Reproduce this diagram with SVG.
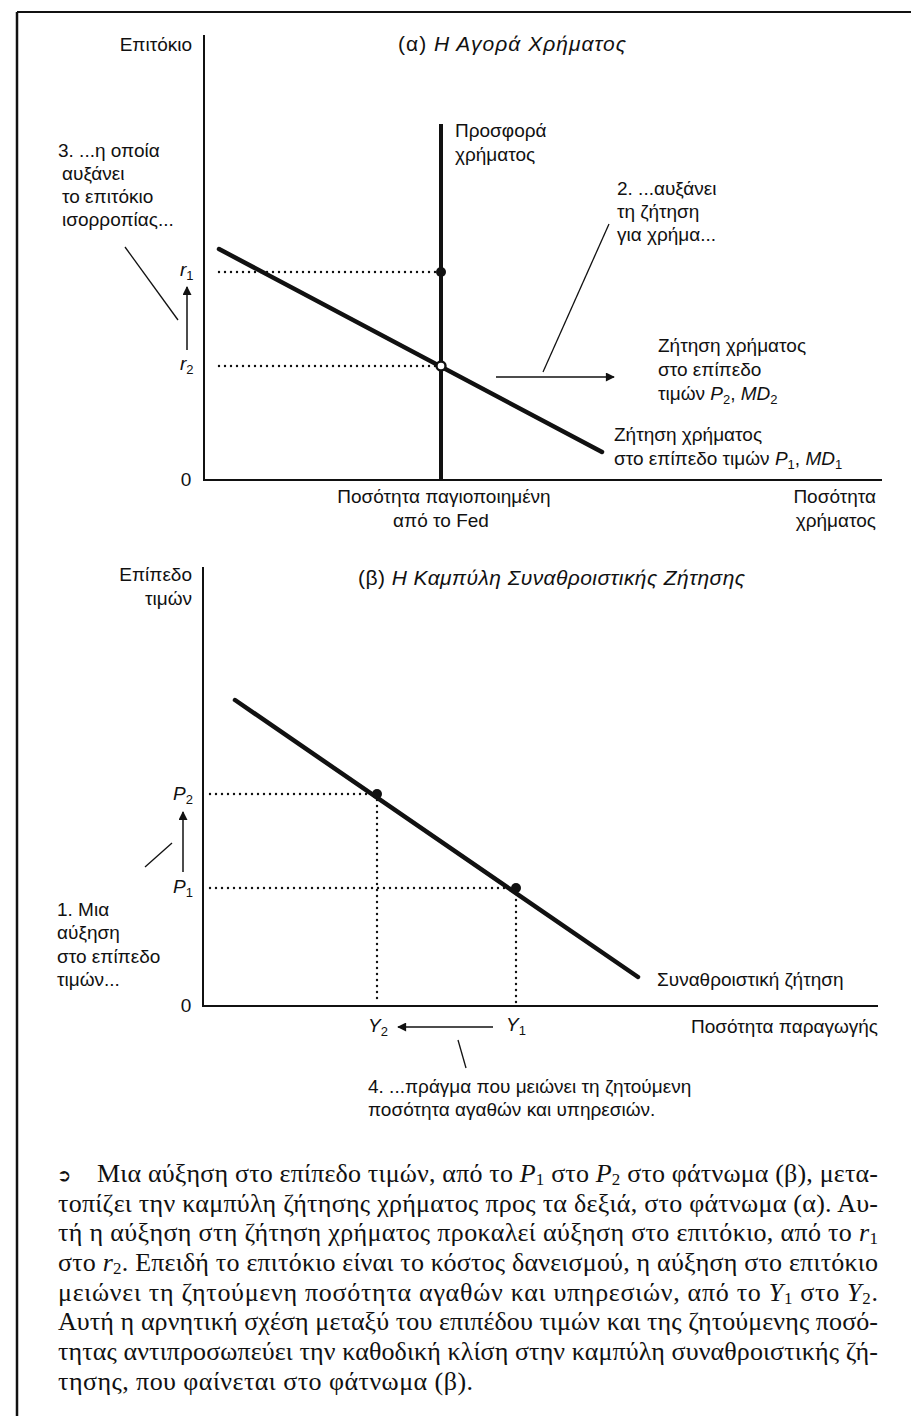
<svg xmlns="http://www.w3.org/2000/svg" width="911" height="1416" viewBox="0 0 911 1416">
  <style>
    .lbl { font-family: "Liberation Sans", Arial, sans-serif; font-size: 19px; fill: #111; }
    .ttl { font-family: "Liberation Sans", Arial, sans-serif; font-size: 21px; fill: #111; }
    .it { font-style: italic; }
    .sub { font-size: 13px; }
    .axis { stroke: #111; stroke-width: 2; fill: none; }
    .curve { stroke: #111; stroke-width: 4.5; fill: none; stroke-linecap: round; }
    .supply { stroke: #111; stroke-width: 4; fill: none; }
    .dots { stroke: #111; stroke-width: 2.4; fill: none; stroke-dasharray: 0 6; stroke-linecap: round; }
    .lead { stroke: #111; stroke-width: 1.3; fill: none; }
    .arr { stroke: #111; stroke-width: 1.5; fill: none; marker-end: url(#tri); }
    .cap { font-family: "Liberation Serif", "Times New Roman", serif; font-size: 26px; fill: #111; }
    .csub { font-size: 17px; }
  </style>
  <defs>
    <marker id="tri" viewBox="0 0 10 10" refX="9" refY="5" markerWidth="11" markerHeight="9" orient="auto" markerUnits="userSpaceOnUse">
      <path d="M0,0 L10,5 L0,10 z" fill="#111"/>
    </marker>
  </defs>

  <rect width="911" height="1416" fill="#fff"/>

  <!-- page frame -->
  <g id="frame">
    <line x1="17" y1="12" x2="911" y2="12" stroke="#111" stroke-width="2"/>
    <line x1="17" y1="12" x2="17" y2="1416" stroke="#111" stroke-width="2.5"/>
  </g>

  <!-- ===== Panel (a): money market ===== -->
  <g id="panel-a-axes">
    <line class="axis" x1="204" y1="35" x2="204" y2="481"/>
    <line class="axis" x1="203" y1="480" x2="882" y2="480"/>
    <text class="lbl" x="192" y="51" text-anchor="end">Επιτόκιο</text>
    <text class="lbl" x="186" y="486" text-anchor="middle">0</text>
    <text class="lbl" x="444" y="503" text-anchor="middle">Ποσότητα παγιοποιημένη</text>
    <text class="lbl" x="441" y="527" text-anchor="middle">από το Fed</text>
    <text class="lbl" x="876" y="503" text-anchor="end">Ποσότητα</text>
    <text class="lbl" x="876" y="527" text-anchor="end">χρήματος</text>
  </g>
  <g id="title-a">
    <text class="ttl" x="398" y="51" textLength="228" lengthAdjust="spacing">(α)  <tspan class="it">Η Αγορά Χρήματος</tspan></text>
  </g>

  <g id="connectors">
    <!-- guide lines at r1 and r2 -->
    <line class="dots" x1="219" y1="272" x2="438" y2="272"/>
    <line class="dots" x1="219" y1="366" x2="436" y2="366"/>
    <!-- rate rises r2 -> r1 -->
    <line class="arr" x1="187" y1="350" x2="187" y2="287"/>
    <line class="lead" x1="125" y1="247" x2="178" y2="320"/>
    <!-- demand shift -->
    <line class="arr" x1="496" y1="377" x2="614" y2="377"/>
    <line class="lead" x1="609" y1="224" x2="543" y2="372"/>
    <!-- guide lines at P2 and P1 -->
    <line class="dots" x1="210" y1="794" x2="372" y2="794"/>
    <line class="dots" x1="377" y1="800" x2="377" y2="1004"/>
    <line class="dots" x1="210" y1="888" x2="511" y2="888"/>
    <line class="dots" x1="516" y1="894" x2="516" y2="1004"/>
    <!-- price level rises P1 -> P2 -->
    <line class="arr" x1="183" y1="872" x2="183" y2="812"/>
    <line class="lead" x1="145" y1="867" x2="172" y2="843"/>
    <!-- output falls Y1 -> Y2 -->
    <line class="arr" x1="493" y1="1027" x2="398" y2="1027"/>
    <line class="lead" x1="458" y1="1040" x2="466" y2="1068"/>
  </g>

  <g id="money-supply">
    <line class="supply" x1="441" y1="124" x2="441" y2="480"/>
    <text class="lbl" x="455" y="137">Προσφορά</text>
    <text class="lbl" x="455" y="161">χρήματος</text>
  </g>

  <g id="money-demand-md1">
    <line class="curve" x1="219" y1="249" x2="602" y2="452"/>
    <text class="lbl" x="614" y="441">Ζήτηση χρήματος</text>
    <text class="lbl" x="614" y="465">στο επίπεδο τιμών <tspan class="it">P</tspan><tspan class="sub" dy="4">1</tspan><tspan dy="-4">, </tspan><tspan class="it">MD</tspan><tspan class="sub" dy="4">1</tspan></text>
  </g>

  <g id="money-demand-md2">
    <text class="lbl" x="658" y="352">Ζήτηση χρήματος</text>
    <text class="lbl" x="658" y="376">στο επίπεδο</text>
    <text class="lbl" x="658" y="400">τιμών <tspan class="it">P</tspan><tspan class="sub" dy="4">2</tspan><tspan dy="-4">, </tspan><tspan class="it">MD</tspan><tspan class="sub" dy="4">2</tspan></text>
  </g>

  <g id="equilibrium-points">
    <circle cx="441" cy="272" r="5" fill="#111"/>
    <circle cx="441" cy="366" r="4.5" fill="#fff" stroke="#111" stroke-width="2.4"/>
    <text class="lbl" x="180" y="276"><tspan class="it">r</tspan><tspan class="sub" dy="4">1</tspan></text>
    <text class="lbl" x="180" y="370"><tspan class="it">r</tspan><tspan class="sub" dy="4">2</tspan></text>
  </g>

  <g id="note-3">
    <text class="lbl" x="58" y="157">3. ...η οποία</text>
    <text class="lbl" x="62" y="180">αυξάνει</text>
    <text class="lbl" x="62" y="203">το επιτόκιο</text>
    <text class="lbl" x="62" y="226">ισορροπίας...</text>
  </g>

  <g id="note-2">
    <text class="lbl" x="617" y="195">2. ...αυξάνει</text>
    <text class="lbl" x="617" y="218">τη ζήτηση</text>
    <text class="lbl" x="617" y="241">για χρήμα...</text>
  </g>

  <!-- ===== Panel (b): aggregate demand ===== -->
  <g id="panel-b-axes">
    <line class="axis" x1="203" y1="567" x2="203" y2="1007"/>
    <line class="axis" x1="202" y1="1006" x2="878" y2="1006"/>
    <text class="lbl" x="192" y="581" text-anchor="end">Επίπεδο</text>
    <text class="lbl" x="192" y="605" text-anchor="end">τιμών</text>
    <text class="lbl" x="186" y="1012" text-anchor="middle">0</text>
    <text class="lbl" x="878" y="1033" text-anchor="end">Ποσότητα παραγωγής</text>
  </g>
  <g id="title-b">
    <text class="ttl" x="358" y="585" textLength="387" lengthAdjust="spacing">(β)  <tspan class="it">Η Καμπύλη Συναθροιστικής Ζήτησης</tspan></text>
  </g>

  <g id="aggregate-demand">
    <line class="curve" x1="235" y1="700" x2="638" y2="977"/>
    <text class="lbl" x="657" y="986">Συναθροιστική ζήτηση</text>
    <circle cx="377" cy="794" r="5" fill="#111"/>
    <circle cx="516" cy="888" r="5" fill="#111"/>
  </g>

  <g id="price-labels">
    <text class="lbl" x="173" y="800"><tspan class="it">P</tspan><tspan class="sub" dy="4">2</tspan></text>
    <text class="lbl" x="173" y="893"><tspan class="it">P</tspan><tspan class="sub" dy="4">1</tspan></text>
  </g>

  <g id="output-labels">
    <text class="lbl" x="368" y="1032"><tspan class="it">Y</tspan><tspan class="sub" dy="4">2</tspan></text>
    <text class="lbl" x="506" y="1031"><tspan class="it">Y</tspan><tspan class="sub" dy="4">1</tspan></text>
  </g>

  <g id="note-1">
    <text class="lbl" x="57" y="916">1. Μια</text>
    <text class="lbl" x="57" y="939">αύξηση</text>
    <text class="lbl" x="57" y="963">στο επίπεδο</text>
    <text class="lbl" x="57" y="986">τιμών...</text>
  </g>

  <g id="note-4">
    <text class="lbl" x="368" y="1093">4. ...πράγμα που μειώνει τη ζητούμενη</text>
    <text class="lbl" x="368" y="1116">ποσότητα αγαθών και υπηρεσιών.</text>
  </g>

  <!-- ===== Caption ===== -->
  <g id="caption">
    <text x="57" y="1181" font-family="'DejaVu Sans', sans-serif" font-size="17" fill="#111">➲</text>
    <text class="cap" x="97" y="1182" textLength="781" lengthAdjust="spacing">Μια αύξηση στο επίπεδο τιμών, από το <tspan class="it">P</tspan><tspan class="csub" dy="3">1</tspan><tspan dy="-3"> στο </tspan><tspan class="it">P</tspan><tspan class="csub" dy="3">2</tspan><tspan dy="-3"> στο φάτνωμα (β), μετα-</tspan></text>
    <text class="cap" x="58" y="1212" textLength="820" lengthAdjust="spacing">τοπίζει την καμπύλη ζήτησης χρήματος προς τα δεξιά, στο φάτνωμα (α). Αυ-</text>
    <text class="cap" x="58" y="1241" textLength="820" lengthAdjust="spacing">τή η αύξηση στη ζήτηση χρήματος προκαλεί αύξηση στο επιτόκιο, από το <tspan class="it">r</tspan><tspan class="csub" dy="3">1</tspan></text>
    <text class="cap" x="58" y="1271" textLength="820" lengthAdjust="spacing">στο <tspan class="it">r</tspan><tspan class="csub" dy="3">2</tspan><tspan dy="-3">. Επειδή το επιτόκιο είναι το κόστος δανεισμού, η αύξηση στο επιτόκιο</tspan></text>
    <text class="cap" x="58" y="1301" textLength="820" lengthAdjust="spacing">μειώνει τη ζητούμενη ποσότητα αγαθών και υπηρεσιών, από το <tspan class="it">Y</tspan><tspan class="csub" dy="3">1</tspan><tspan dy="-3"> στο </tspan><tspan class="it">Y</tspan><tspan class="csub" dy="3">2</tspan><tspan dy="-3">.</tspan></text>
    <text class="cap" x="58" y="1330" textLength="820" lengthAdjust="spacing">Αυτή η αρνητική σχέση μεταξύ του επιπέδου τιμών και της ζητούμενης ποσό-</text>
    <text class="cap" x="58" y="1360" textLength="820" lengthAdjust="spacing">τητας αντιπροσωπεύει την καθοδική κλίση στην καμπύλη συναθροιστικής ζή-</text>
    <text class="cap" x="58" y="1390" textLength="415" lengthAdjust="spacing">τησης, που φαίνεται στο φάτνωμα (β).</text>
  </g>
</svg>
